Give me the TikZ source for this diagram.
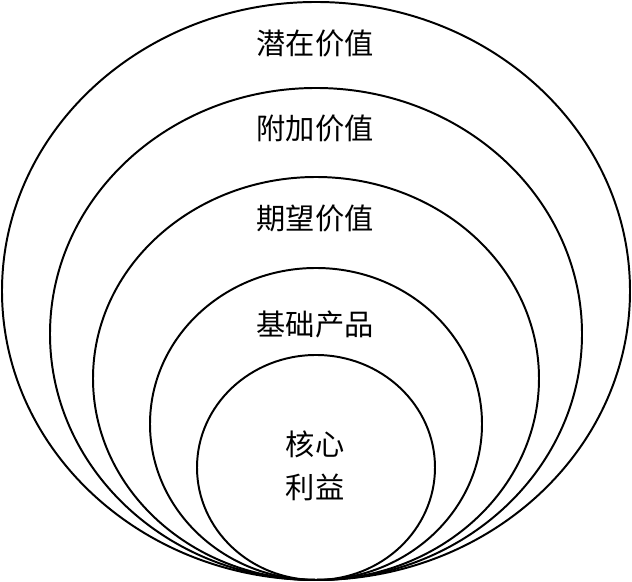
\documentclass[tikz,border=0pt]{standalone}
\usepackage{fontspec}
\newfontfamily\cjk{Noto Sans CJK SC}
\tikzset{
    ring/.style={line width=1.4pt},
    ringlabel/.style={font=\cjk\fontsize{20.8}{31}\selectfont, align=center, inner sep=0pt}
}

\begin{document}
\begin{tikzpicture}[x=0.025cm, y=0.025cm]
    \useasboundingbox (0, 0) rectangle (632, 582);
    % Nested rings, all touching at the bottom point.
    \coordinate (base) at (316, 2);
    \draw[ring] (316, 291) ellipse (314 and 289);
    \draw[ring] (316, 248) ellipse (266 and 246);
    \draw[ring] (316, 203.5) ellipse (223 and 201.5);
    \draw[ring] (316, 158) ellipse (166 and 156);
    \draw[ring] (316, 114.5) ellipse (119 and 112.5);
    % Labels, from the outer ring inwards.
    \node[ringlabel] (potential) at (315, 539) {潜在价值};
    \node[ringlabel] (augmented) at (315, 454) {附加价值};
    \node[ringlabel] (expected) at (315, 364) {期望价值};
    \node[ringlabel] (basic) at (315, 258) {基础产品};
    \node[ringlabel] (core) at (315, 116) {核心\\利益};
\end{tikzpicture}
\end{document}
